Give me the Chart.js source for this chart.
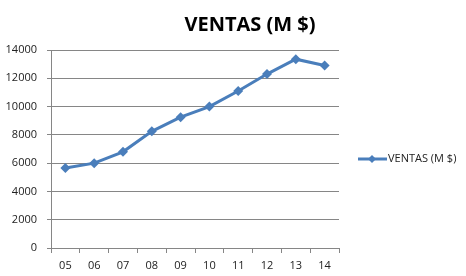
<!DOCTYPE html>
<html>
  <head>
    <title>Ventas</title>
    <script src="https://cdn.jsdelivr.net/npm/chart.js"></script>
    <style>
      body {
        margin: 0;
        background: white;
      }
    </style>
  </head>
  <body>
    <canvas id="ventasChart" width="466" height="276"></canvas>

    <script>
      const years = ["05", "06", "07", "08", "09", "10", "11", "12", "13", "14"];
      const ventas = [5650, 6000, 6800, 8250, 9250, 10000, 11100, 12300, 13350, 12900];
      const seriesName = "VENTAS (M $)";
      const blue = "#4A7EBB";
      const font = "'Open Sans', sans-serif";

      // title and legend drawn at fixed spots, like the Excel layout
      const excelBits = {
        id: "excelBits",
        afterDraw(chart) {
          const c = chart.ctx;
          c.save();
          c.fillStyle = "#000";
          c.font = "bold 20px " + font;
          c.textAlign = "center";
          c.textBaseline = "middle";
          c.fillText(seriesName, 250, 25);

          const y = 159;
          c.strokeStyle = blue;
          c.lineWidth = 3;
          c.beginPath();
          c.moveTo(358, y);
          c.lineTo(387, y);
          c.stroke();
          c.fillStyle = blue;
          c.beginPath();
          c.moveTo(372, y - 4);
          c.lineTo(376, y);
          c.lineTo(372, y + 4);
          c.lineTo(368, y);
          c.closePath();
          c.fill();
          c.fillStyle = "#222";
          c.font = "11px " + font;
          c.textAlign = "left";
          c.fillText(seriesName, 388, y);
          c.restore();
        },
      };

      new Chart(document.getElementById("ventasChart"), {
        type: "line",
        data: {
          labels: years,
          datasets: [
            {
              label: seriesName,
              data: ventas,
              borderColor: blue,
              backgroundColor: blue,
              borderWidth: 3,
              pointStyle: "rectRot",
              pointRadius: 5,
              pointBorderWidth: 0,
              tension: 0,
            },
          ],
        },
        options: {
          responsive: false,
          animation: false,
          layout: { padding: { top: 50, right: 127, left: 0, bottom: 0 } },
          plugins: {
            legend: { display: false },
            tooltip: { enabled: false },
          },
          scales: {
            x: {
              offset: true,
              afterFit: (s) => (s.height = 28),
              grid: {
                offset: true,
                drawOnChartArea: false,
                tickLength: 5,
                color: "#868686",
              },
              border: { color: "#868686" },
              ticks: { color: "#222", font: { family: font, size: 11 }, padding: 6 },
            },
            y: {
              min: 0,
              max: 14000,
              afterFit: (s) => (s.width = 51),
              grid: { color: "#868686", tickLength: 4 },
              border: { color: "#868686" },
              ticks: {
                stepSize: 2000,
                color: "#222",
                font: { family: font, size: 11 },
                padding: 10,
                callback: (v) => String(v),
              },
            },
          },
        },
        plugins: [excelBits],
      });
    </script>
  </body>
</html>
